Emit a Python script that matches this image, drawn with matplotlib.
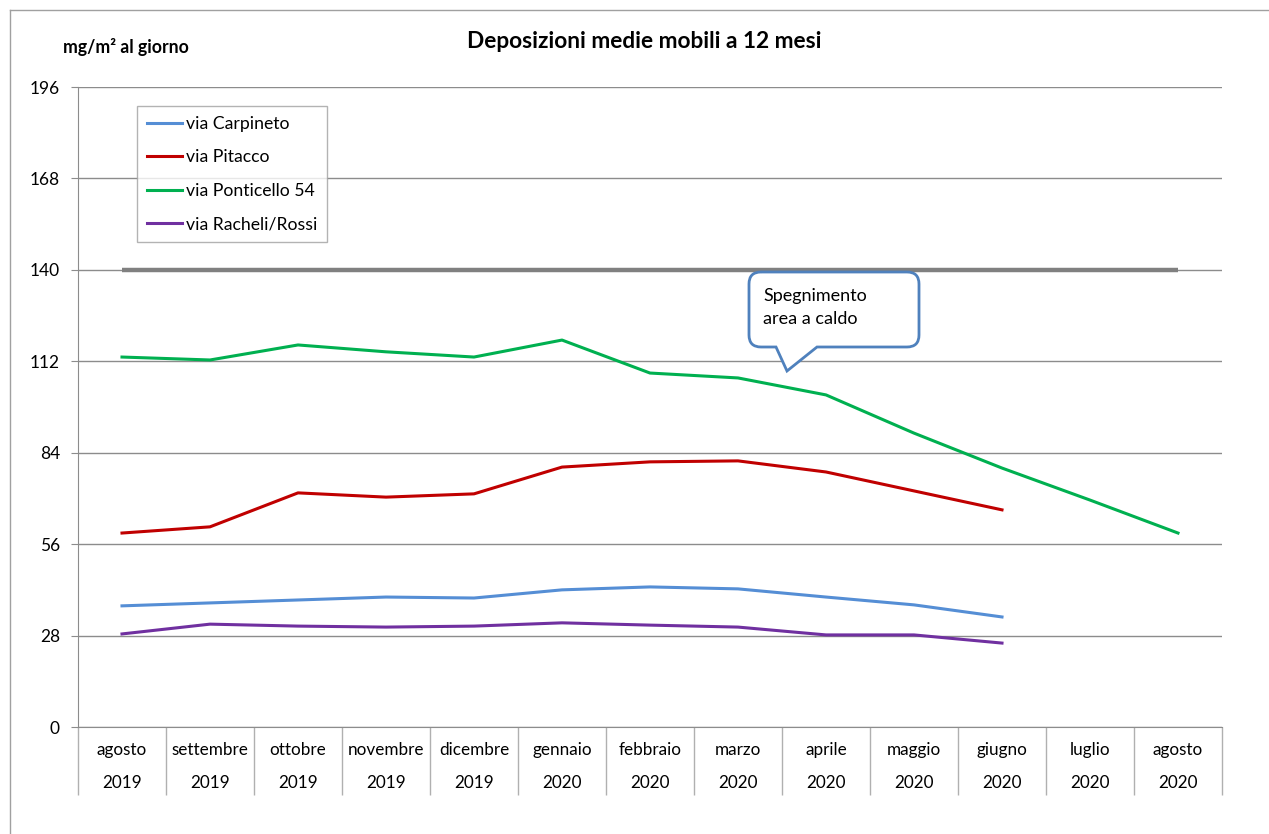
import matplotlib
matplotlib.use("Agg")
import matplotlib.pyplot as plt
from matplotlib.path import Path
from matplotlib.patches import PathPatch
from matplotlib.lines import Line2D
import numpy as np

months = ["agosto", "settembre", "ottobre", "novembre", "dicembre", "gennaio",
          "febbraio", "marzo", "aprile", "maggio", "giugno", "luglio", "agosto"]
years = ["2019", "2019", "2019", "2019", "2019", "2020", "2020", "2020",
         "2020", "2020", "2020", "2020", "2020"]

carpineto = [37.1, 38.0, 38.9, 39.8, 39.5, 42.0, 42.9, 42.3, 39.8, 37.4, 33.7]
pitacco = [59.4, 61.3, 71.7, 70.4, 71.4, 79.6, 81.2, 81.5, 78.1, 72.3, 66.5]
ponticello = [113.3, 112.4, 117.0, 114.9, 113.3, 118.5, 108.4, 106.9, 101.7,
              90.0, 79.3, 69.5, 59.4]
racheli = [28.5, 31.5, 30.9, 30.6, 30.9, 31.9, 31.2, 30.6, 28.2, 28.2, 25.7]
limit = [140] * 13

yticks = [0, 28, 56, 84, 112, 140, 168, 196]

W, H = 1269, 834
plt.rcParams['font.family'] = ['Lato', 'DejaVu Sans']
fig = plt.figure(figsize=(W / 100, H / 100), dpi=100)

def fx(x):
    return x / W

def fy(y):
    return 1 - y / H

ax = fig.add_axes([fx(78), fy(727), (1222 - 78) / W, (727 - 87) / H])
ax.set_xlim(-0.5, 12.5)
ax.set_ylim(0, 196)

grid_c = "#8c8c8c"
ax.set_yticks(yticks)
ax.yaxis.grid(True, color=grid_c, linewidth=1.0)
ax.set_axisbelow(True)
ax.tick_params(axis='y', length=5, color=grid_c, labelsize=12.5, pad=8)
for s in ["top", "right"]:
    ax.spines[s].set_visible(False)
ax.spines["left"].set_color(grid_c)
ax.spines["bottom"].set_color(grid_c)

# category axis: separators as minor ticks
ax.set_xticks(np.arange(13))
ax.set_xticklabels([])
ax.tick_params(axis='x', which='major', length=0)
ax.set_xticks(np.arange(-0.5, 13.0, 1.0), minor=True)
ax.tick_params(axis='x', which='minor', length=49, color="#b0b0b0", width=1.0)

for i, (m, yr) in enumerate(zip(months, years)):
    ax.annotate(m, xy=(i, 0), xycoords=('data', 'axes fraction'),
                xytext=(0, -23), textcoords='offset pixels',
                ha='center', va='center', fontsize=12.3)
    ax.annotate(yr, xy=(i, 0), xycoords=('data', 'axes fraction'),
                xytext=(0, -56), textcoords='offset pixels',
                ha='center', va='center', fontsize=12.3)

x13 = np.arange(13)
x11 = np.arange(11)
lw = 2.2
ax.plot(x13, limit, color="#808080", linewidth=3.2, solid_capstyle='butt')
ax.plot(x11, carpineto, color="#558ED5", linewidth=lw, label="via Carpineto")
ax.plot(x11, pitacco, color="#C00000", linewidth=lw, label="via Pitacco")
ax.plot(x13, ponticello, color="#00B050", linewidth=lw, label="via Ponticello 54")
ax.plot(x11, racheli, color="#7030A0", linewidth=lw, label="via Racheli/Rossi")

# legend box
leg = ax.legend(loc='upper left', bbox_to_anchor=((137 - 78) / 1144, (727 - 106) / 640),
                frameon=True, fancybox=False, edgecolor="#a0a0a0", fontsize=12.7,
                handlelength=2.0, handletextpad=0.2, labelspacing=1.0,
                borderpad=0.55, borderaxespad=0)
leg.get_frame().set_linewidth(1.0)

# title and unit label
fig.text(fx(644), fy(42), "Deposizioni medie mobili a 12 mesi", ha='center', va='center',
         fontsize=16.3, fontweight='bold')
fig.text(fx(63), fy(47), "mg/m² al giorno", ha='left', va='center',
         fontsize=12.7, fontweight='bold')

# callout
x0, x1, y0, y1, r = 749, 919, 272, 347, 12
bl, tipx, tipy, br = 776, 787, 371, 817
pts = [
    (x0 + r, y0), (x1 - r, y0), (x1, y0), (x1, y0 + r),
    (x1, y1 - r), (x1, y1), (x1 - r, y1),
    (br, y1), (tipx, tipy), (bl, y1),
    (x0 + r, y1), (x0, y1), (x0, y1 - r),
    (x0, y0 + r), (x0, y0), (x0 + r, y0),
]
codes = [Path.MOVETO, Path.LINETO, Path.CURVE3, Path.CURVE3,
         Path.LINETO, Path.CURVE3, Path.CURVE3,
         Path.LINETO, Path.LINETO, Path.LINETO,
         Path.LINETO, Path.CURVE3, Path.CURVE3,
         Path.LINETO, Path.CURVE3, Path.CURVE3]
verts = [(fx(a), fy(b)) for a, b in pts]
callout = PathPatch(Path(verts, codes), facecolor='white', edgecolor="#4F81BD",
                    linewidth=2.0, transform=fig.transFigure, zorder=10)
fig.patches.append(callout)
fig.text(fx(763), fy(296), "Spegnimento", ha='left', va='center', fontsize=13, zorder=11)
fig.text(fx(763), fy(319), "area a caldo", ha='left', va='center', fontsize=13, zorder=11)

# outer frame
fig.add_artist(Line2D([fx(10), fx(10)], [fy(10), 0], color="#a0a0a0", linewidth=1.0,
                      transform=fig.transFigure))
fig.add_artist(Line2D([fx(10), 1], [fy(10), fy(10)], color="#a0a0a0", linewidth=1.0,
                      transform=fig.transFigure))

fig.savefig("out.png", dpi=100)
